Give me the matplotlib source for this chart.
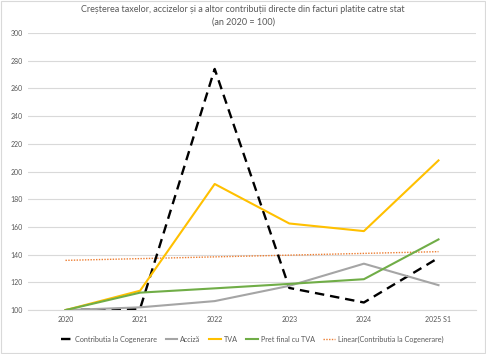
import numpy as np
import matplotlib.pyplot as plt
from matplotlib.patches import Rectangle

plt.rcParams['font.family'] = ['Lato', 'DejaVu Sans']

years = ["2020", "2021", "2022", "2023", "2024", "2025 S1"]
cogenerare = [100, 101, 274, 116, 105.5, 137.7]
acciza = [100, 102, 106.5, 117.5, 133.5, 118]
tva = [100, 114, 191, 162.5, 157, 208]
pret_final = [100, 112.6, 115.7, 118.9, 122.3, 151]

x = np.arange(len(years))
# linear trend of the cogeneration contribution (as Excel does)
k, b = np.polyfit(x, cogenerare, 1)
trend = k * x + b

txt = '#595959'
fig = plt.figure(figsize=(4.86, 3.54), dpi=100)
ax = fig.add_axes([0.058, 0.124, 0.921, 0.783])

ax.plot(x, cogenerare, color='black', lw=1.7, ls=(0, (4, 2.5)), label='Contributia la Cogenerare', zorder=3)
ax.plot(x, acciza, color='#A5A5A5', lw=1.5, label='Acciză', zorder=3)
ax.plot(x, tva, color='#FFC000', lw=1.5, label='TVA', zorder=3)
ax.plot(x, pret_final, color='#70AD47', lw=1.5, label='Pret final cu TVA', zorder=3)
ax.plot(x, trend, color='#ED7D31', lw=1.0, ls=(0, (1, 1)), label='Linear(Contributia la Cogenerare)', zorder=2)

ax.set_xlim(-0.5, 5.5)
ax.set_ylim(100, 300)
ax.set_yticks(np.arange(100, 301, 20))
ax.set_xticks(x)
ax.set_xticklabels(years)
ax.tick_params(axis='both', length=0, labelsize=5, labelcolor=txt, pad=4)
ax.grid(axis='y', color='#D9D9D9', lw=0.8)
ax.set_axisbelow(True)
for s in ['top', 'right', 'left']:
    ax.spines[s].set_visible(False)
ax.spines['bottom'].set_color('#D9D9D9')
ax.spines['bottom'].set_linewidth(0.8)

fig.text(0.5, 0.985, 'Creșterea taxelor, accizelor și a altor contribuții directe din facturi platite catre stat\n(an 2020 = 100)',
         ha='center', va='top', fontsize=6.5, color=txt, linespacing=1.5)

ax.legend(loc='center', bbox_to_anchor=(0.5, -0.105), ncol=5, frameon=False,
          fontsize=5.2, labelcolor=txt, handlelength=1.6, handletextpad=0.4, columnspacing=1.2)

fig.patches.append(Rectangle((0.002, 0.003), 0.996, 0.994, transform=fig.transFigure,
                             fill=False, edgecolor='#D9D9D9', lw=0.8))

fig.savefig('out.png', dpi=100)
